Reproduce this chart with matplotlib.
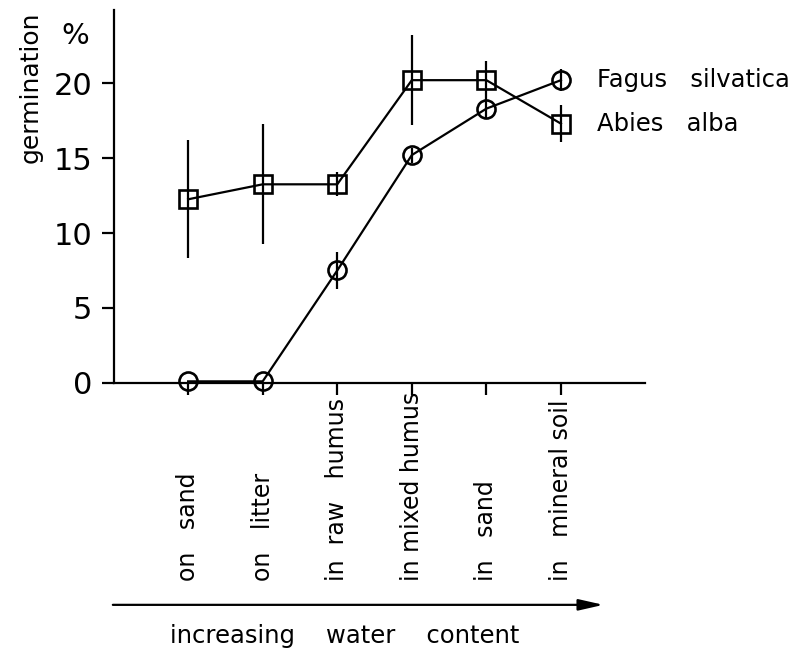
import numpy as np
import matplotlib.pyplot as plt

# soil / position classes along the x axis
sites = ['on   sand', 'on   litter', 'in  raw   humus', 'in mixed humus',
         'in   sand', 'in   mineral soil']
x_pos = np.arange(1, 7)

# germination (%) and error bar half-widths
fagus = [0.1, 0.1, 7.5, 15.2, 18.3, 20.2]
fagus_err = [0.0, 0.0, 1.25, 0.5, 0.6, 0.75]
abies = [12.25, 13.25, 13.25, 20.2, 20.2, 17.3]
abies_err = [3.95, 4.0, 0.8, 3.0, 1.3, 1.25]

y_ticks = [0, 5, 10, 15, 20]

plt.rcParams['font.family'] = 'DejaVu Sans'

fig = plt.figure(figsize=(7.97, 6.5), dpi=100)
ax = fig.add_axes([0.1425, 0.411, 0.667, 0.574])

lw = 1.6
for vals, errs, mk in [(fagus, fagus_err, 'o'), (abies, abies_err, 's')]:
    ax.errorbar(x_pos, vals, yerr=errs, fmt='-' + mk, color='black', lw=lw,
                elinewidth=lw, capsize=0, mfc='none', mec='black', mew=1.9,
                ms=13, clip_on=False, zorder=3)

ax.set_xlim(0, 7.13)
ax.set_ylim(0, 24.9)
ax.spines['top'].set_visible(False)
ax.spines['right'].set_visible(False)
ax.spines['left'].set_linewidth(lw)
ax.spines['bottom'].set_linewidth(lw)

ax.set_yticks(y_ticks)
ax.set_yticklabels([str(v) for v in y_ticks], fontsize=22)
ax.set_xticks(x_pos)
ax.set_xticklabels([])
ax.tick_params(axis='both', direction='out', length=8.5, width=lw, pad=7)

# rotated site labels, all starting at the same baseline
for xp, name in zip(x_pos, sites):
    ax.text(xp, -0.532, name, rotation=90, ha='center', va='bottom',
            fontsize=17, transform=ax.get_xaxis_transform())

# species labels next to the last points
ax.text(6.48, fagus[-1], 'Fagus   silvatica', fontsize=17.5, va='center', ha='left')
ax.text(6.48, abies[-1], 'Abies   alba', fontsize=17.5, va='center', ha='left')

# y label and unit
fig.text(0.039, 0.982, 'germination', rotation=90, ha='center', va='top', fontsize=18)
fig.text(0.094, 0.945, '%', ha='center', va='center', fontsize=21)

# water content arrow
ax.annotate('', xy=(6.57, -0.595), xytext=(-0.01, -0.595),
            xycoords=ax.get_xaxis_transform(),
            arrowprops=dict(arrowstyle='-|>,head_length=0.75,head_width=0.17',
                            color='black', lw=lw, mutation_scale=20,
                            shrinkA=0, shrinkB=0),
            annotation_clip=False)
ax.text(0.76, -0.678, 'increasing    water    content', fontsize=17.5,
        ha='left', va='center', transform=ax.get_xaxis_transform())

fig.savefig('out.png', dpi=100)
